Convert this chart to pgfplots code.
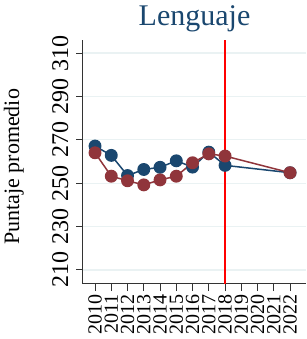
\documentclass[border=0pt]{standalone}
\usepackage{pgfplots}
\pgfplotsset{compat=1.18}
\usepackage{fontspec}
\setmainfont{Liberation Serif}
\definecolor{sblue}{HTML}{1A476F}
\definecolor{sred}{HTML}{90353B}
\definecolor{sgrid}{HTML}{EAF2F3}
\begin{document}
\begin{tikzpicture}
\begin{axis}[name=ax, at={(0,0)}, anchor=south west,
  scale only axis, width=223pt, height=244pt,
  xmin=2009.26, xmax=2022.98, ymin=203.5, ymax=316,
  axis x line*=bottom, axis y line*=left,
  xtick={2010,2011,...,2022}, ytick={210,230,...,310},
  tick align=outside, major tick length=7pt,
  tick style={black!80, line width=0.9pt},
  ymajorgrids, grid style={sgrid, line width=1.2pt},
  axis line style={black!80, line width=1pt},
  /pgf/number format/assume math mode=true,
  /pgf/number format/1000 sep={},
  xticklabel style={rotate=90, anchor=east, font=\fontsize{20}{20}\selectfont},
  yticklabel shift=4pt,
  yticklabel style={rotate=90, anchor=south, font=\fontsize{24}{24}\selectfont},
  title={Lenguaje},
  title style={at={(axis description cs:0.5,1)}, anchor=base, yshift=8pt, text=sblue, font=\fontsize{30}{30}\selectfont},
  ylabel={Puntaje promedio},
  ylabel style={at={(axis description cs:-0.31,0.48)}, rotate=0, anchor=center, font=\fontsize{22}{22}\selectfont},
  clip=false,
]
\addplot[red, line width=1.2pt, forget plot] coordinates {(2018,203.5) (2018,316)};
\addplot[sblue, line width=1.5pt, mark=*, mark size=5.7pt, mark options={fill=sblue, draw=sblue}] coordinates {
(2010,267.1) (2011,262.8) (2012,253.5) (2013,256.3) (2014,257.3) (2015,260.3) (2016,257.4) (2017,264.3) (2018,258.2) (2022,254.8)};
\addplot[sred, line width=1.5pt, mark=*, mark size=5.7pt, mark options={fill=sred, draw=sred}] coordinates {
(2010,264.0) (2011,253.2) (2012,251.1) (2013,249.2) (2014,251.5) (2015,253.2) (2016,259.4) (2017,263.5) (2018,262.5) (2022,254.8)};
\end{axis}
\pgfresetboundingbox
\path[use as bounding box] ([shift={(-83pt,-55pt)}]ax.south west) rectangle ([shift={(0pt,40pt)}]ax.north east);
\end{tikzpicture}
\end{document}
